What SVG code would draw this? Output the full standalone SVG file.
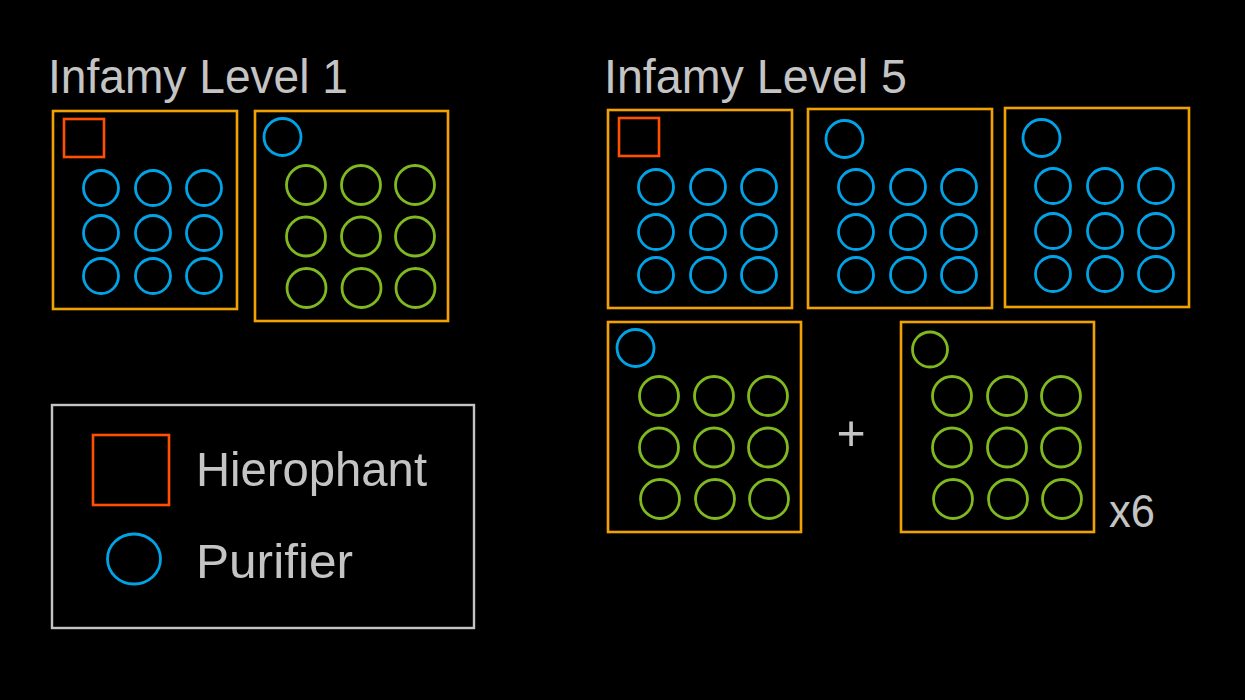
<svg xmlns="http://www.w3.org/2000/svg" width="1245" height="700" viewBox="0 0 1245 700">
<style>
.bg{fill:#000}
.box{fill:none;stroke:#f2a200;stroke-width:2.6}
.hier{fill:none;stroke:#ff5000;stroke-width:2.6}
.pur{fill:none;stroke:#00a3e6;stroke-width:2.8}
.grn{fill:none;stroke:#7fb81f;stroke-width:2.8}
.lbl{fill:#c4c4c4;font-family:"Liberation Sans",Arial,sans-serif}
.legend{fill:none;stroke:#c4c4c4;stroke-width:2.4}
</style>
<rect class="bg" x="0" y="0" width="1245" height="700"/>

<g id="title-level1">
<text class="lbl" x="48" y="93" font-size="49" textLength="300" lengthAdjust="spacingAndGlyphs">Infamy Level 1</text>
</g>
<g id="title-level5">
<text class="lbl" x="604" y="93" font-size="49" textLength="303" lengthAdjust="spacingAndGlyphs">Infamy Level 5</text>
</g>

<g id="l1-box-a">
<rect class="box" x="53" y="111" width="184" height="198"/>
<rect class="hier" x="64" y="119" width="40" height="38"/>
<circle class="pur" cx="101" cy="188" r="17.5"/><circle class="pur" cx="153" cy="188" r="17.5"/><circle class="pur" cx="204" cy="188" r="17.5"/>
<circle class="pur" cx="101" cy="233" r="17.5"/><circle class="pur" cx="153" cy="233" r="17.5"/><circle class="pur" cx="204" cy="233" r="17.5"/>
<circle class="pur" cx="101" cy="276" r="17.5"/><circle class="pur" cx="153" cy="276" r="17.5"/><circle class="pur" cx="204" cy="276" r="17.5"/>
</g>

<g id="l1-box-b">
<rect class="box" x="255" y="111" width="193" height="210"/>
<circle class="pur" cx="282.5" cy="137" r="18.5"/>
<circle class="grn" cx="306" cy="185" r="19.5"/><circle class="grn" cx="361" cy="185" r="19.5"/><circle class="grn" cx="415" cy="185" r="19.5"/>
<circle class="grn" cx="306" cy="236.5" r="19.5"/><circle class="grn" cx="361" cy="236.5" r="19.5"/><circle class="grn" cx="415" cy="236.5" r="19.5"/>
<circle class="grn" cx="306.5" cy="288" r="19.5"/><circle class="grn" cx="361.5" cy="288" r="19.5"/><circle class="grn" cx="415.5" cy="288" r="19.5"/>
</g>

<g id="l5-box-a">
<rect class="box" x="608" y="110" width="184" height="198"/>
<rect class="hier" x="619" y="118" width="40" height="38"/>
<circle class="pur" cx="656" cy="187" r="17.5"/><circle class="pur" cx="708" cy="187" r="17.5"/><circle class="pur" cx="759" cy="187" r="17.5"/>
<circle class="pur" cx="656" cy="232" r="17.5"/><circle class="pur" cx="708" cy="232" r="17.5"/><circle class="pur" cx="759" cy="232" r="17.5"/>
<circle class="pur" cx="656" cy="275" r="17.5"/><circle class="pur" cx="708" cy="275" r="17.5"/><circle class="pur" cx="759" cy="275" r="17.5"/>
</g>

<g id="l5-box-b">
<rect class="box" x="808" y="109" width="184" height="199"/>
<circle class="pur" cx="844.5" cy="139" r="18.5"/>
<circle class="pur" cx="856" cy="187" r="17.5"/><circle class="pur" cx="908" cy="187" r="17.5"/><circle class="pur" cx="959" cy="187" r="17.5"/>
<circle class="pur" cx="856" cy="232" r="17.5"/><circle class="pur" cx="908" cy="232" r="17.5"/><circle class="pur" cx="959" cy="232" r="17.5"/>
<circle class="pur" cx="856" cy="275" r="17.5"/><circle class="pur" cx="908" cy="275" r="17.5"/><circle class="pur" cx="959" cy="275" r="17.5"/>
</g>

<g id="l5-box-c">
<rect class="box" x="1005" y="108" width="184" height="199"/>
<circle class="pur" cx="1041.5" cy="138" r="18.5"/>
<circle class="pur" cx="1053" cy="186" r="17.5"/><circle class="pur" cx="1105" cy="186" r="17.5"/><circle class="pur" cx="1156" cy="186" r="17.5"/>
<circle class="pur" cx="1053" cy="231" r="17.5"/><circle class="pur" cx="1105" cy="231" r="17.5"/><circle class="pur" cx="1156" cy="231" r="17.5"/>
<circle class="pur" cx="1053" cy="274" r="17.5"/><circle class="pur" cx="1105" cy="274" r="17.5"/><circle class="pur" cx="1156" cy="274" r="17.5"/>
</g>

<g id="l5-box-d">
<rect class="box" x="608" y="322" width="193" height="210"/>
<circle class="pur" cx="635.5" cy="348" r="18.5"/>
<circle class="grn" cx="659" cy="396" r="19.5"/><circle class="grn" cx="714" cy="396" r="19.5"/><circle class="grn" cx="768" cy="396" r="19.5"/>
<circle class="grn" cx="659" cy="447.5" r="19.5"/><circle class="grn" cx="714" cy="447.5" r="19.5"/><circle class="grn" cx="768" cy="447.5" r="19.5"/>
<circle class="grn" cx="660" cy="499" r="19.5"/><circle class="grn" cx="715" cy="499" r="19.5"/><circle class="grn" cx="769" cy="499" r="19.5"/>
</g>

<g id="plus">
<text class="lbl" x="851" y="450" font-size="50" text-anchor="middle">+</text>
</g>

<g id="l5-box-e">
<rect class="box" x="901" y="322" width="193" height="210"/>
<circle class="grn" cx="930" cy="349.5" r="17.5"/>
<circle class="grn" cx="952" cy="396" r="19.5"/><circle class="grn" cx="1007" cy="396" r="19.5"/><circle class="grn" cx="1061" cy="396" r="19.5"/>
<circle class="grn" cx="952" cy="447.5" r="19.5"/><circle class="grn" cx="1007" cy="447.5" r="19.5"/><circle class="grn" cx="1061" cy="447.5" r="19.5"/>
<circle class="grn" cx="953" cy="499" r="19.5"/><circle class="grn" cx="1008" cy="499" r="19.5"/><circle class="grn" cx="1062" cy="499" r="19.5"/>
</g>

<g id="multiplier">
<text class="lbl" x="1109" y="527" font-size="46" textLength="46" lengthAdjust="spacingAndGlyphs">x6</text>
</g>

<g id="legend">
<rect class="legend" x="52" y="405" width="422" height="223"/>
<rect class="hier" x="93" y="435" width="76" height="70"/>
<ellipse class="pur" cx="134" cy="559" rx="26.5" ry="25"/>
<text class="lbl" x="196" y="486" font-size="49" textLength="231" lengthAdjust="spacingAndGlyphs">Hierophant</text>
<text class="lbl" x="196" y="578" font-size="49" textLength="157" lengthAdjust="spacingAndGlyphs">Purifier</text>
</g>

<g id="connectors"></g>
</svg>
